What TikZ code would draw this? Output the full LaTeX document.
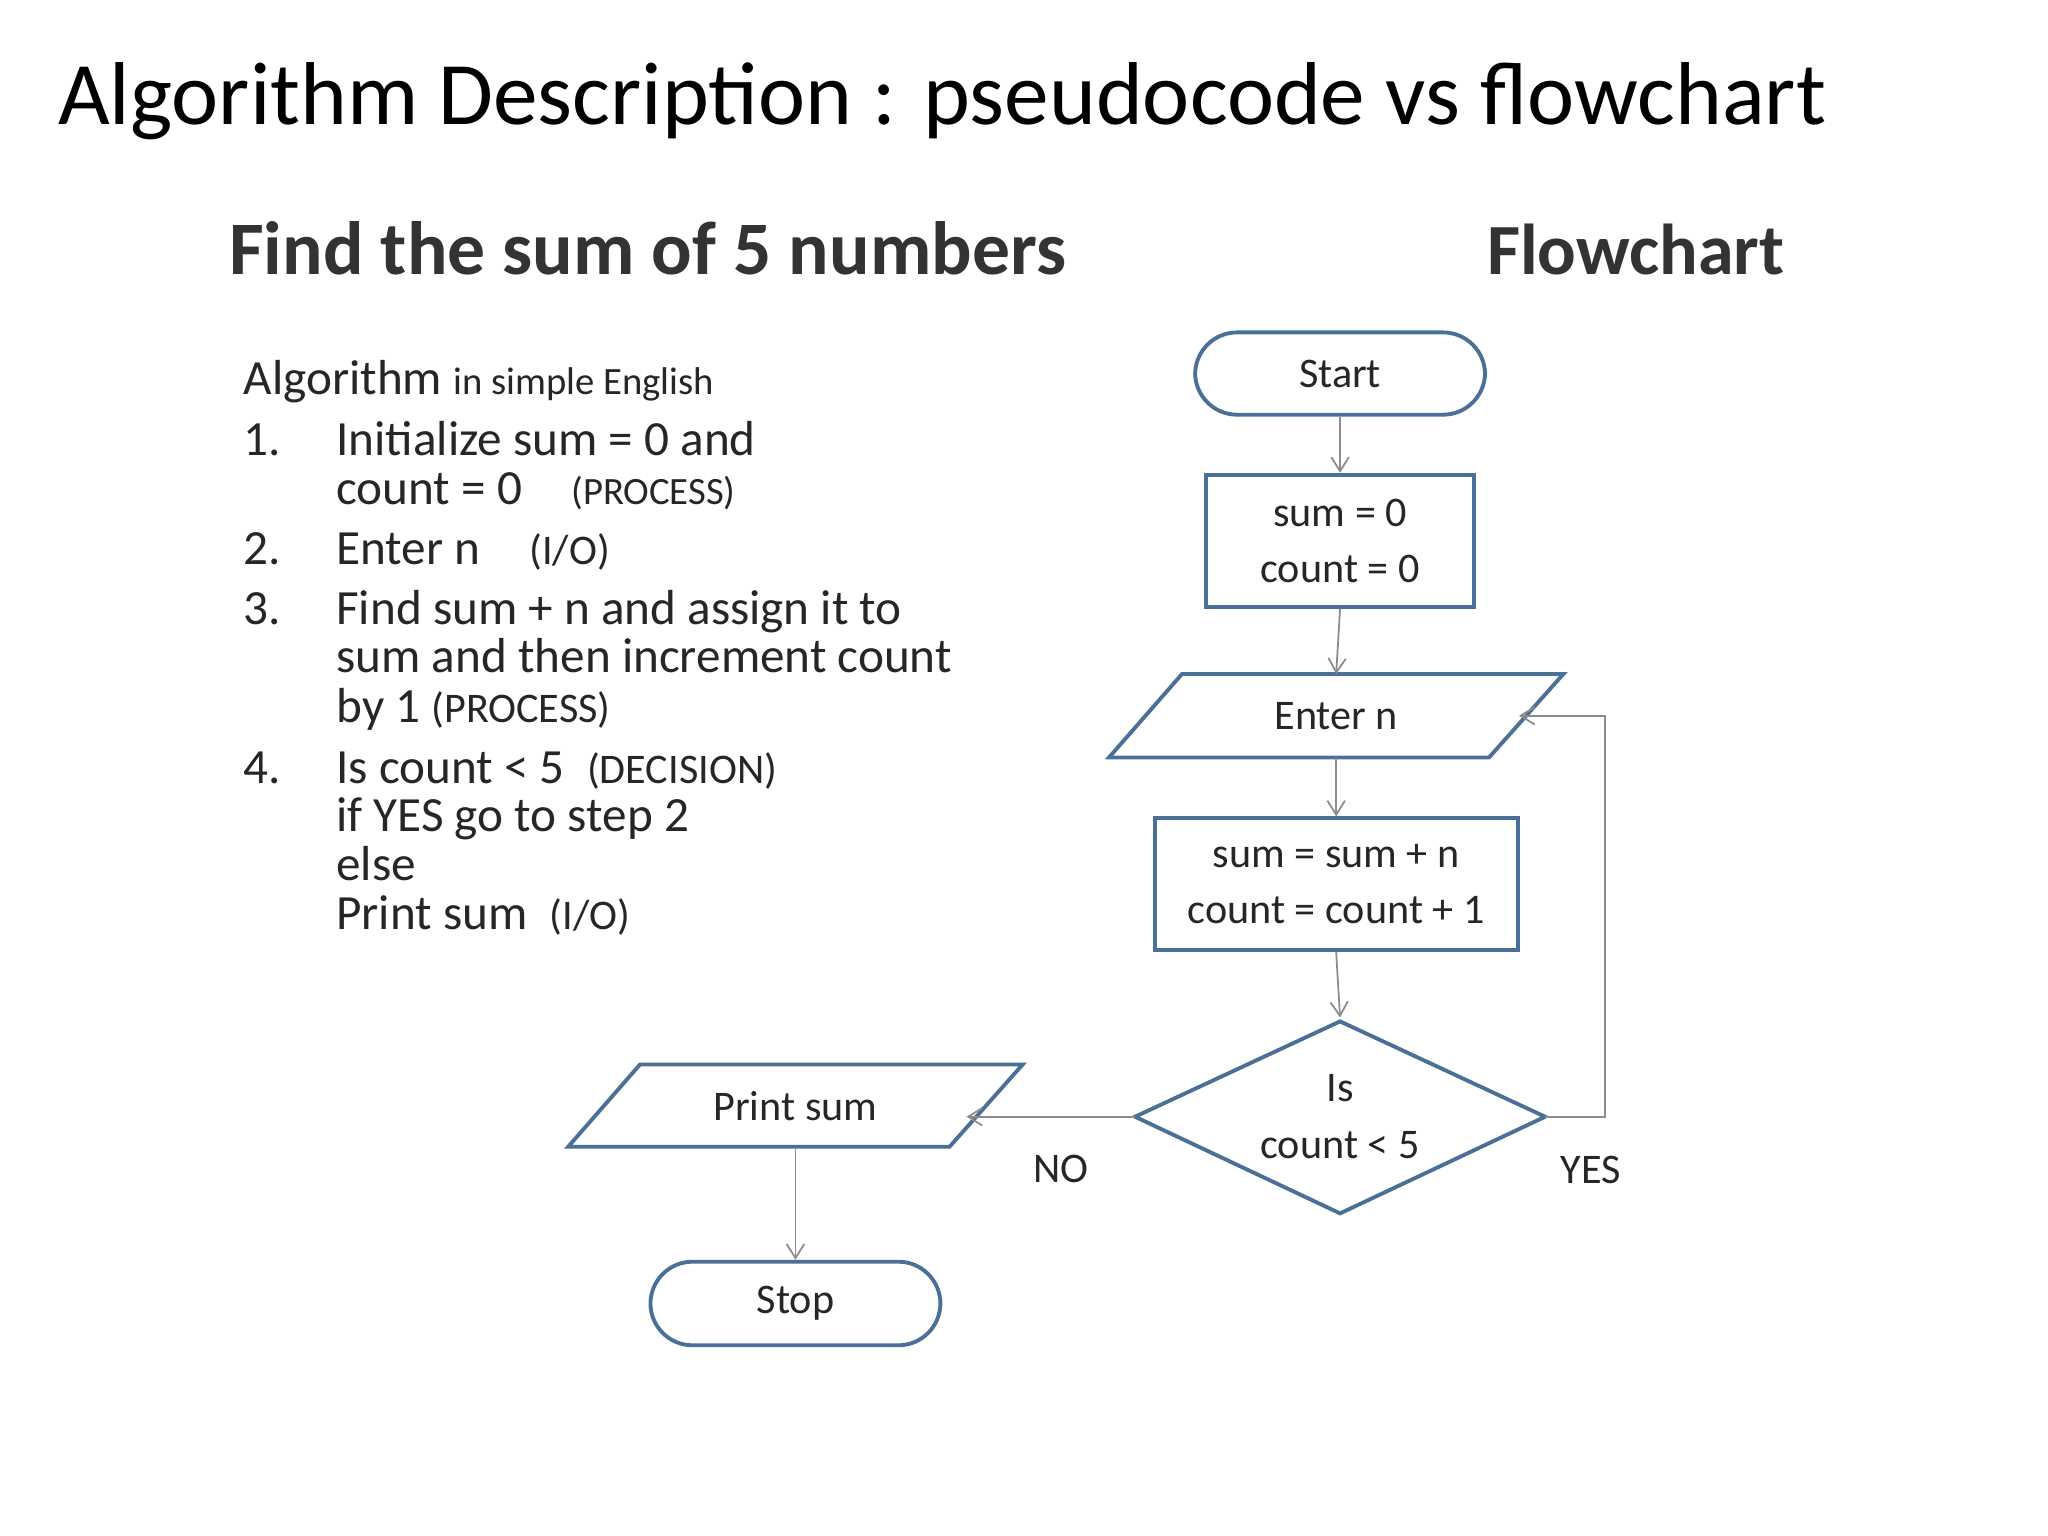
\documentclass[tikz,border=0pt]{standalone}
\usepackage{fontspec}
\setmainfont{Carlito}
\usetikzlibrary{arrows.meta}
\definecolor{steel}{HTML}{4A7098}
\begin{document}
\begin{tikzpicture}[x=0.01306cm,y=-0.01306cm,
  fc/.style={draw=none,inner sep=0,font=\fontsize{12}{13}\selectfont,text=black!85,align=center},
  shp/.style={draw=steel,line width=1.1pt},
  arr/.style={draw=black!45,line width=0.5pt,-{Straight Barb[length=4pt,width=5pt]}},
  it/.style={anchor=base west,font=\fontsize{14}{16}\selectfont,text=black!85,inner sep=0}]
\useasboundingbox (0,0) rectangle (1568,1176);
\fill[white] (0,0) rectangle (1568,1176);
\node[anchor=base west,inner sep=0,font=\fontsize{25.4}{28}\selectfont] (title) at (44,95) {Algorithm Description : pseudocode vs flowchart};
\node[anchor=base west,inner sep=0,font=\fontsize{21.5}{24}\selectfont\bfseries,text=black!80] (h1) at (175,210) {Find the sum of 5 numbers};
\node[anchor=base west,inner sep=0,font=\fontsize{20.5}{24}\selectfont\bfseries,text=black!80] (h2) at (1138,210) {Flowchart};
\node[it] (alg) at (186,302) {Algorithm {\fontsize{11}{13}\selectfont in simple English}};
\node[it] (n1) at (186,349) {1.};
\node[it] (t1a) at (257,349) {Initialize sum = 0 and};
\node[it] (t1b) at (257,386) {count = 0\quad {\fontsize{11}{13}\selectfont (PROCESS)}};
\node[it] (n2) at (186,432) {2.};
\node[it] (t2) at (257,432) {Enter n\quad {\fontsize{12}{13}\selectfont (I/O)}};
\node[it] (n3) at (186,478) {3.};
\node[it] (t3a) at (257,478) {Find sum + n and assign it to};
\node[it] (t3b) at (257,515) {sum and then increment count};
\node[it] (t3c) at (257,553) {by 1 {\fontsize{12}{13}\selectfont (PROCESS)}};
\node[it] (n4) at (186,600) {4.};
\node[it] (t4a) at (257,600) {Is count < 5\ \ {\fontsize{12}{13}\selectfont (DECISION)}};
\node[it] (t4b) at (257,637) {if YES go to step 2};
\node[it] (t4c) at (257,674) {else};
\node[it] (t4d) at (257,712) {Print sum\ \ {\fontsize{12}{13}\selectfont (I/O)}};
% flowchart
\node[fc,shp,draw,rounded corners=0.42cm,minimum width=222*0.01306cm,minimum height=63*0.01306cm] (start) at (1026,286) {Start};
\node[fc,shp,draw,minimum width=205*0.01306cm,minimum height=101*0.01306cm] (init) at (1026,414) {sum = 0\\[3pt]count = 0};
\node[fc,minimum width=292*0.01306cm,minimum height=64*0.01306cm] (enter) at (1023,548) {Enter n};
\draw[shp] (905,516) -- (1197,516) -- (1140,580) -- (849,580) -- cycle;
\node[fc,shp,draw,minimum width=278*0.01306cm,minimum height=101*0.01306cm] (proc) at (1023,677) {sum = sum + n\\[3pt]count = count + 1};
\node[fc,minimum width=314*0.01306cm,minimum height=147*0.01306cm] (dec) at (1026,855) {Is\\[3pt]count < 5};
\draw[shp] (1026,782) -- (1183,855) -- (1026,929) -- (869,855) -- cycle;
\node[fc,minimum width=292*0.01306cm,minimum height=63*0.01306cm] (print) at (609,847) {Print sum};
\draw[shp] (490,815) -- (783,815) -- (727,878) -- (435,878) -- cycle;
\node[fc,shp,draw,rounded corners=0.42cm,minimum width=222*0.01306cm,minimum height=64*0.01306cm] (stop) at (609,998) {Stop};
\coordinate (dl) at (869,855);
\coordinate (dr) at (1183,855);
\coordinate (pr) at (740,855);
\coordinate (er) at (1163,548);
\draw[arr] (start.south) -- (init.north);
\draw[arr] (init.south) -- (enter.south |- 0,516);
\draw[arr] (enter.south) -- (proc.north);
\draw[arr] (proc.south) -- (1026,779);
\draw[arr] (dr) -- (1229,855) -- (1229,548) -- (er);
\draw[arr] (dl) -- (pr);
\draw[arr] (print.south) -- (stop.north);
\node[fc] (no) at (812,895) {NO};
\node[fc] (yes) at (1218,896) {YES};
\end{tikzpicture}
\end{document}
